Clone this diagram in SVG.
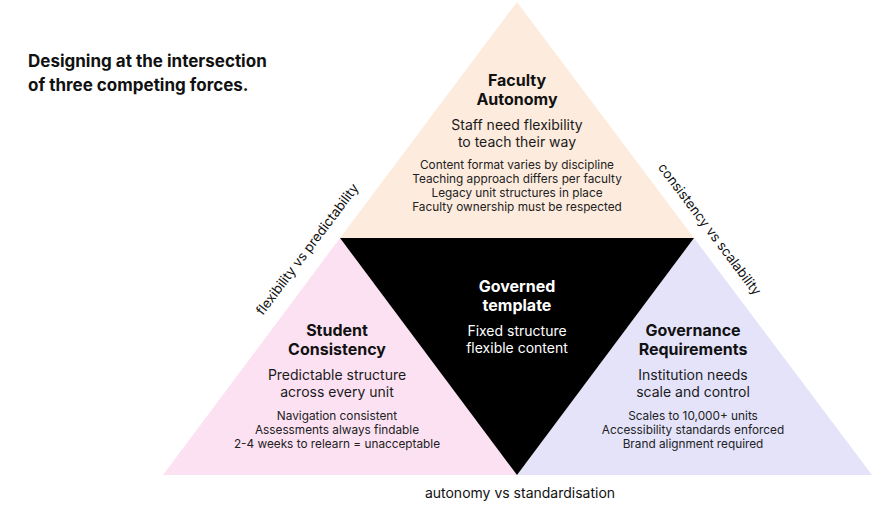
<svg xmlns="http://www.w3.org/2000/svg" width="879" height="520" viewBox="0 0 879 520">
<style>
text{font-family:Inter,"Liberation Sans",sans-serif;text-anchor:middle}
.title{font-size:17px;font-weight:700;fill:#111;text-anchor:start}
.h{font-size:16px;font-weight:700;fill:#111}
.s{font-size:14px;fill:#1a1a1a}
.d{font-size:11.8px;fill:#222}
.hw{font-size:16px;font-weight:700;fill:#fff}
.sw{font-size:14px;fill:#fff}
.e{font-size:14px;fill:#111}
.r{font-size:13.4px}
</style>
<rect width="879" height="520" fill="#fff"/>
<g id="title">
<text class="title" x="28" y="67">Designing at the intersection</text>
<text class="title" x="28" y="91">of three competing forces.</text>
</g>
<g id="faculty">
<polygon points="517,2 694,238 340,238" fill="#FDEBDD"/>
<text class="h" x="517" y="86">Faculty</text>
<text class="h" x="517" y="105">Autonomy</text>
<text class="s" x="517" y="130">Staff need flexibility</text>
<text class="s" x="517" y="147">to teach their way</text>
<text class="d" x="517" y="169">Content format varies by discipline</text>
<text class="d" x="517" y="183">Teaching approach differs per faculty</text>
<text class="d" x="517" y="197">Legacy unit structures in place</text>
<text class="d" x="517" y="211">Faculty ownership must be respected</text>
</g>
<g id="student">
<polygon points="340,238 517,475 163,475" fill="#FCE1F3"/>
<text class="h" x="337" y="336">Student</text>
<text class="h" x="337" y="355">Consistency</text>
<text class="s" x="337" y="380">Predictable structure</text>
<text class="s" x="337" y="397">across every unit</text>
<text class="d" x="337" y="420">Navigation consistent</text>
<text class="d" x="337" y="434">Assessments always findable</text>
<text class="d" x="337" y="448">2-4 weeks to relearn = unacceptable</text>
</g>
<g id="governance">
<polygon points="694,238 872,475 517,475" fill="#E4E3FA"/>
<text class="h" x="693" y="336">Governance</text>
<text class="h" x="693" y="355">Requirements</text>
<text class="s" x="693" y="380">Institution needs</text>
<text class="s" x="693" y="397">scale and control</text>
<text class="d" x="693" y="420">Scales to 10,000+ units</text>
<text class="d" x="693" y="434">Accessibility standards enforced</text>
<text class="d" x="693" y="448">Brand alignment required</text>
</g>
<g id="template">
<polygon points="340,238 694,238 517,475" fill="#000"/>
<text class="hw" x="517" y="292">Governed</text>
<text class="hw" x="517" y="311">template</text>
<text class="sw" x="517" y="336">Fixed structure</text>
<text class="sw" x="517" y="353">flexible content</text>
</g>
<g id="connectors">
<text class="e r" transform="translate(311,252) rotate(-53)">flexibility vs predictability</text>
<text class="e r" transform="translate(706,232) rotate(53)">consistency vs scalability</text>
<text class="e" x="520" y="498">autonomy vs standardisation</text>
</g>
</svg>
